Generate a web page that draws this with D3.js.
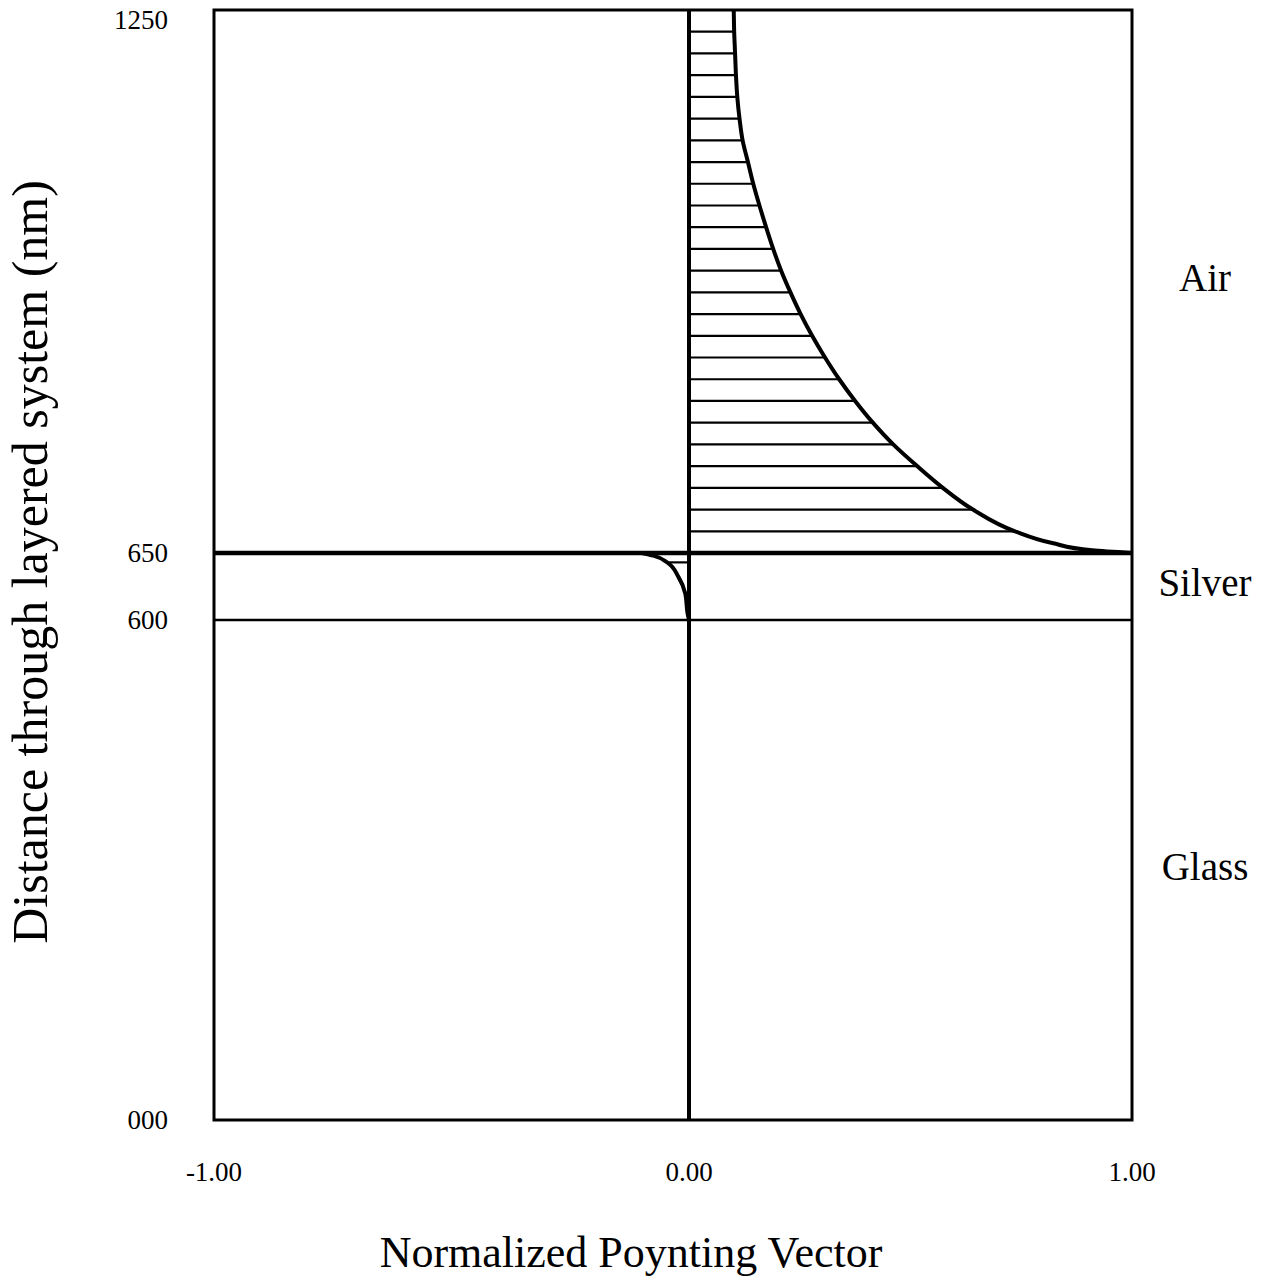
<!DOCTYPE html>
<html>
<head>
<meta charset="utf-8">
<title>Normalized Poynting Vector</title>
<script src="https://d3js.org/d3.v7.min.js"></script>
<style>
  body { margin: 0; background: #fff; }
  text { font-family: "Liberation Serif", "Times New Roman", serif; fill: #000; }
</style>
</head>
<body>
<script>
// values
const airDepth = [650, 653, 661, 674, 698, 722, 746, 770, 794, 818, 842, 866, 890, 914, 938,
                  962, 986, 1010, 1034, 1058, 1082, 1106, 1130, 1154, 1178, 1202, 1226, 1250]
const airFlux = [1.00, 0.91, 0.82, 0.736, 0.641, 0.573, 0.515, 0.461, 0.415, 0.375, 0.339, 0.307, 0.278, 0.252, 0.229,
                 0.208, 0.190, 0.174, 0.159, 0.145, 0.133, 0.121, 0.114, 0.109, 0.106, 0.104, 0.102, 0.101]
const silverDepth = [600, 605, 620, 632, 643, 648, 650]
const silverFlux = [0, -0.003, -0.008, -0.022, -0.046, -0.075, -0.10]
const silverHatch = [643]

const layerNames = ["Glass", "Silver", "Air"]
const layerBottom = [0, 600, 650]
const layerTop = [600, 650, 1250]

const yTicks = [0, 600, 650, 1250]
const yTickLabels = ["000", "600", "650", "1250"]
const xTicks = [-1, 0, 1]
const xTickLabels = ["-1.00", "0.00", "1.00"]

const W = 1272, H = 1281

const x = d3.scaleLinear().domain([-1, 0, 1]).range([214, 689, 1132])
const y = d3.scaleLinear().domain([0, 600, 650, 1250]).range([1120, 620, 553, 10])

const svg = d3.select("body").append("svg")
  .attr("width", W)
  .attr("height", H)

const air = airDepth.map((z, i) => ({z: z, s: airFlux[i]}))
const silver = silverDepth.map((z, i) => ({z: z, s: silverFlux[i]}))

// hatching between zero line and curve
const airHatch = air.filter(d => d.z > 650 && d.z < 1250 && (d.z - 650) % 24 === 0)
const silHatch = silverHatch.map(z => ({z: z, s: silverFlux[silverDepth.indexOf(z)]}))

svg.selectAll(".hatch")
  .data(airHatch.concat(silHatch))
  .enter()
    .append("line")
    .classed("hatch", true)
    .attr("x1", x(0))
    .attr("x2", d => x(d.s))
    .attr("y1", d => y(d.z))
    .attr("y2", d => y(d.z))
    .attr("stroke", "#000")
    .attr("stroke-width", 2.2)

// frame
svg.append("rect")
  .attr("x", x(-1))
  .attr("y", y(1250))
  .attr("width", x(1) - x(-1))
  .attr("height", y(0) - y(1250))
  .attr("fill", "none")
  .attr("stroke", "#000")
  .attr("stroke-width", 3)

// layer boundaries
svg.selectAll(".boundary")
  .data([600, 650])
  .enter()
    .append("line")
    .classed("boundary", true)
    .attr("x1", x(-1))
    .attr("x2", x(1))
    .attr("y1", d => y(d))
    .attr("y2", d => y(d))
    .attr("stroke", "#000")
    .attr("stroke-width", d => d === 650 ? 4.5 : 2.5)

// zero line
svg.append("line")
  .attr("x1", x(0)).attr("x2", x(0))
  .attr("y1", y(0)).attr("y2", y(1250))
  .attr("stroke", "#000")
  .attr("stroke-width", 4)

const line = d3.line()
  .x(d => x(d.s))
  .y(d => y(d.z))
  .curve(d3.curveMonotoneY)

svg.selectAll(".curve")
  .data([air, silver])
  .enter()
    .append("path")
    .classed("curve", true)
    .attr("d", line)
    .attr("fill", "none")
    .attr("stroke", "#000")
    .attr("stroke-width", 4)

// y tick labels
svg.selectAll(".ytick")
  .data(yTicks)
  .enter()
    .append("text")
    .classed("ytick", true)
    .attr("x", 168)
    .attr("y", d => Math.max(y(d), 20))
    .attr("dy", "0.35em")
    .attr("text-anchor", "end")
    .attr("font-size", 27)
    .text((d, i) => yTickLabels[i])

// x tick labels
svg.selectAll(".xtick")
  .data(xTicks)
  .enter()
    .append("text")
    .classed("xtick", true)
    .attr("x", d => x(d))
    .attr("y", 1181)
    .attr("text-anchor", "middle")
    .attr("font-size", 27)
    .text((d, i) => xTickLabels[i])

// layer names
svg.selectAll(".layer")
  .data(layerNames)
  .enter()
    .append("text")
    .classed("layer", true)
    .attr("x", 1205)
    .attr("y", (d, i) => y((layerBottom[i] + layerTop[i]) / 2))
    .attr("dy", "0.25em")
    .attr("text-anchor", "middle")
    .attr("font-size", 39)
    .text(d => d)

svg.append("text")
  .attr("x", 631)
  .attr("y", 1267)
  .attr("text-anchor", "middle")
  .attr("font-size", 44)
  .text("Normalized Poynting Vector")

svg.append("text")
  .attr("transform", "translate(47,562) rotate(-90)")
  .attr("text-anchor", "middle")
  .attr("font-size", 50)
  .text("Distance through layered system (nm)")
</script>
</body>
</html>
